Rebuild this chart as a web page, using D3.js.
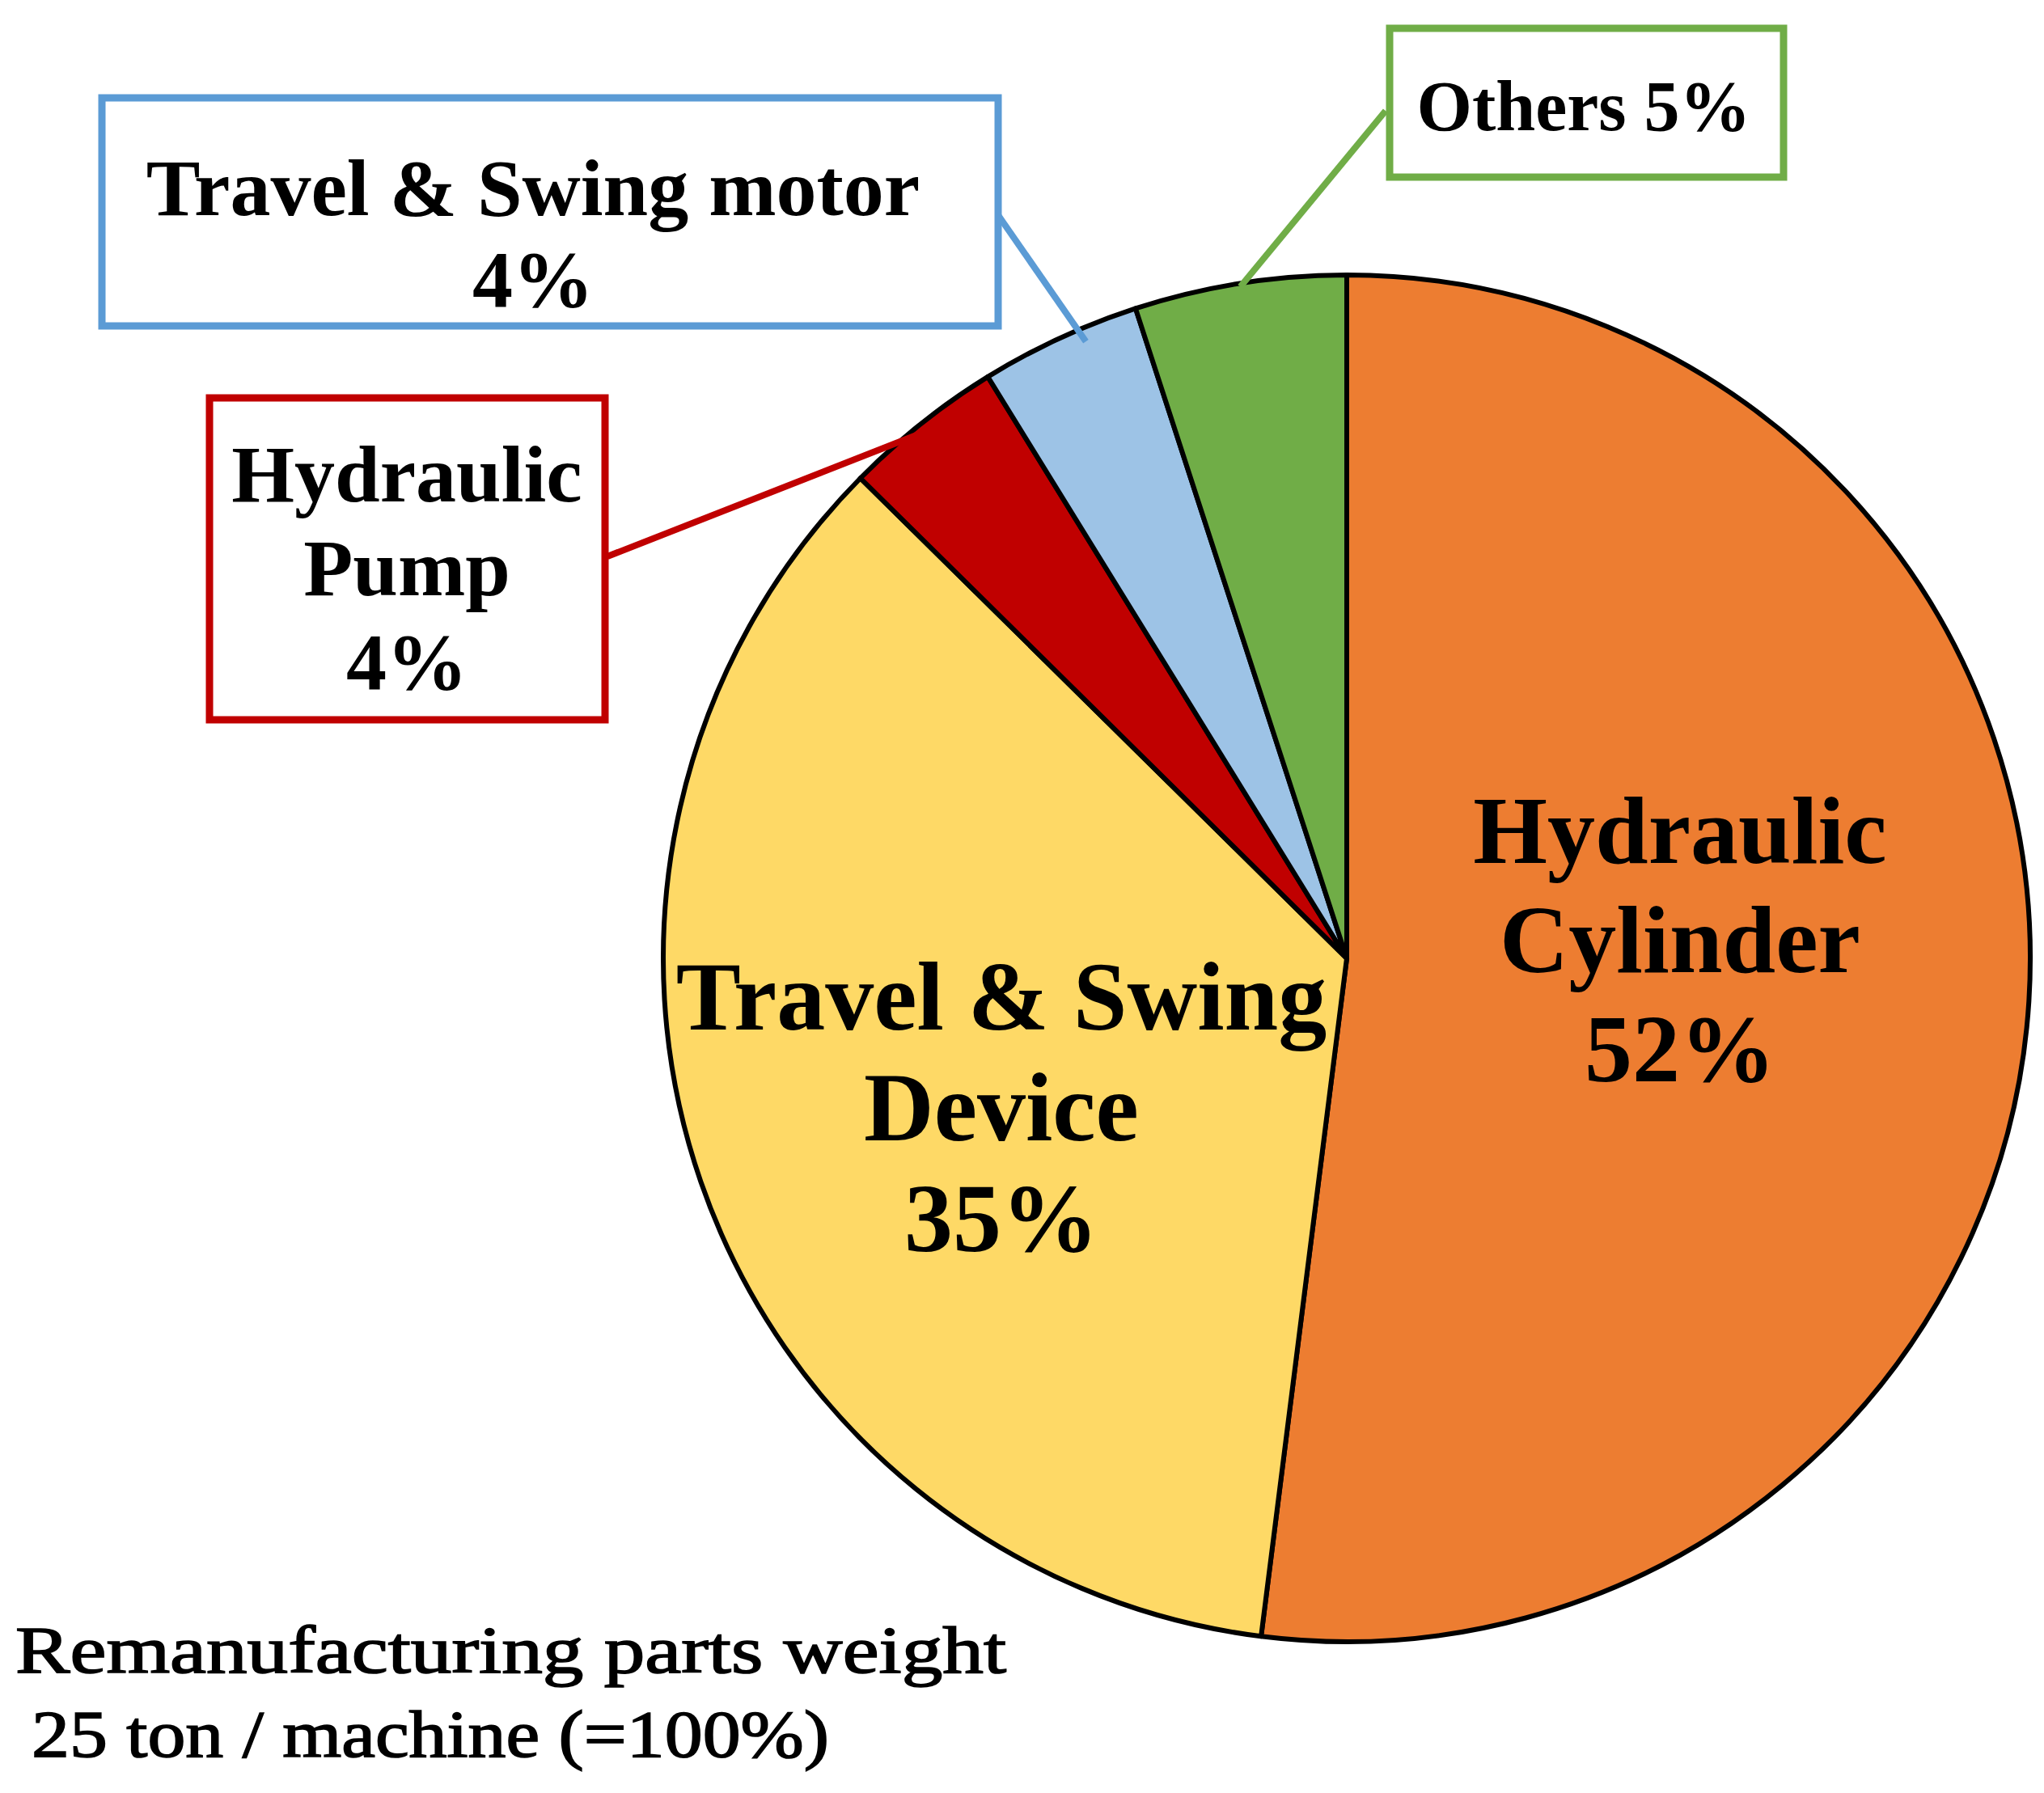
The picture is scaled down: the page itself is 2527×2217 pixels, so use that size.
<!DOCTYPE html>
<html>
<head>
<meta charset="utf-8">
<script src="https://cdn.jsdelivr.net/npm/d3@7"></script>
<style>
  body { margin: 0; background: #fff; }
  text { font-family: "Liberation Serif", "Times New Roman", serif; }
</style>
</head>
<body>
<script>
// parts share of remanufacturing weight, clockwise from 12 o'clock
var categories = ["Hydraulic Cylinder", "Travel & Swing Device", "Hydraulic Pump", "Travel & Swing motor", "Others"]
var shares = [52.0, 35.4, 3.8, 3.8, 5.0]
var fills = ["#ED7D31", "#FED966", "#C00000", "#9DC3E6", "#70AD47"]
var borders = [null, null, "#C00000", "#5B9BD5", "#70AD47"]

// label lines for each slice
var labelLines = [
  ["Hydraulic", "Cylinder", "52%"],
  ["Travel & Swing", "Device", "35%"],
  ["Hydraulic", "Pump", "4%"],
  ["Travel & Swing motor", "4%"],
  ["Others 5%"]
]
var footnote = ["Remanufacturing parts weight", "25 ton / machine (=100%)"]

var W = 2527, H = 2217
var cx = 1665, cy = 1185, R = 845

var svg = d3.select("body").append("svg")
    .attr("width", W)
    .attr("height", H)

var pie = d3.pie().sort(null).value(function(d){ return d })
var arc = d3.arc().innerRadius(0).outerRadius(R)
var arcs = pie(shares)

var g = svg.append("g").attr("transform", "translate(" + cx + "," + cy + ")")

g.selectAll("path.slice")
    .data(arcs).enter()
  .append("path")
    .attr("class", "slice")
    .attr("d", arc)
    .attr("fill", function(d, i){ return fills[i] })
    .attr("stroke", "#000")
    .attr("stroke-width", 6)
    .attr("stroke-linejoin", "round")

// inside labels (big slices)
var inner = [
  {i: 0, x: 2077, y: 1067, size: 118, lh: 135},
  {i: 1, x: 1238, y: 1273, size: 120, lh: 137}
]
inner.forEach(function(l){
  svg.append("text")
      .attr("text-anchor", "middle")
      .attr("font-weight", "bold")
      .attr("font-size", l.size)
      .attr("fill", "#000")
    .selectAll("tspan")
      .data(labelLines[l.i]).enter()
    .append("tspan")
      .attr("x", l.x)
      .attr("y", function(d, k){ return l.y + k * l.lh })
      .text(function(d){ return d })
})

// callout boxes for the small slices; t = where in the slice the leader ends
var callouts = [
  {i: 2, box: [259, 492, 489, 398], from: [751, 688], t: 0.45, r: 0.99, tx: 503, ty: 620, size: 100, lh: 116},
  {i: 3, box: [126, 121, 1108, 282], from: [1234, 266], t: 0.64, r: 0.98, tx: 659, ty: 266, size: 100, lh: 113},
  {i: 4, box: [1718, 35, 487, 184], from: [1713, 137], t: 0.5, r: 0.995, tx: 1958, ty: 161, size: 88, lh: 100}
]
callouts.forEach(function(c){
  var a = arcs[c.i]
  var ang = a.startAngle + (a.endAngle - a.startAngle) * c.t
  var ex = cx + Math.sin(ang) * R * c.r,
      ey = cy - Math.cos(ang) * R * c.r

  svg.append("line")
      .attr("x1", c.from[0]).attr("y1", c.from[1])
      .attr("x2", ex).attr("y2", ey)
      .attr("stroke", borders[c.i])
      .attr("stroke-width", 8)

  svg.append("rect")
      .attr("x", c.box[0]).attr("y", c.box[1])
      .attr("width", c.box[2]).attr("height", c.box[3])
      .attr("fill", "#fff")
      .attr("stroke", borders[c.i])
      .attr("stroke-width", 9)

  svg.append("text")
      .attr("text-anchor", "middle")
      .attr("font-weight", "bold")
      .attr("font-size", c.size)
    .selectAll("tspan")
      .data(labelLines[c.i]).enter()
    .append("tspan")
      .attr("x", c.tx)
      .attr("y", function(d, k){ return c.ty + k * c.lh })
      .text(function(d){ return d })
})

// footnote
var foot = [
  {x: 19, y: 2068, len: 1225},
  {x: 39, y: 2172, len: 986}
]
svg.selectAll("text.foot")
    .data(footnote).enter()
  .append("text")
    .attr("class", "foot")
    .attr("x", function(d, i){ return foot[i].x })
    .attr("y", function(d, i){ return foot[i].y })
    .attr("font-size", 82)
    .attr("stroke", "#000")
    .attr("stroke-width", 1.6)
    .attr("textLength", function(d, i){ return foot[i].len })
    .attr("lengthAdjust", "spacingAndGlyphs")
    .text(function(d){ return d })
</script>
</body>
</html>
